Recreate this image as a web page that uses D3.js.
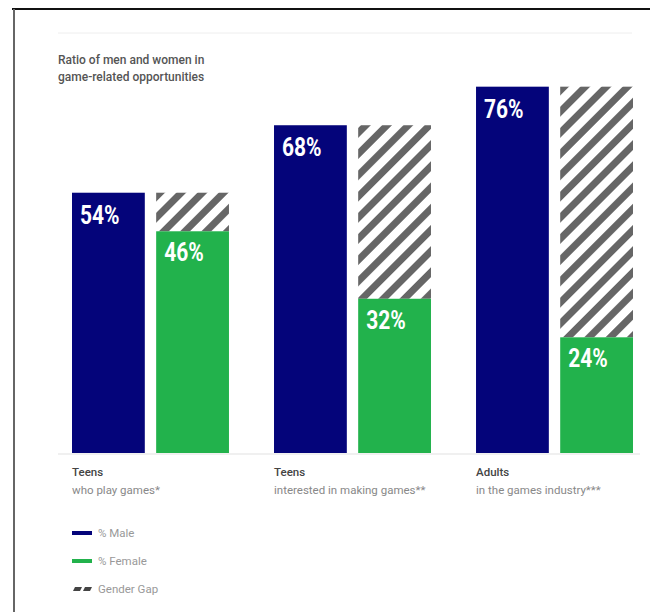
<!DOCTYPE html>
<html>
<head>
<meta charset="utf-8">
<script src="https://cdn.jsdelivr.net/npm/d3@7"></script>
<style>
  body { margin: 0; background: #fff; }
  svg { display: block; font-family: Roboto, "Noto Sans", sans-serif; }
</style>
</head>
<body>
<div id="chart"></div>
<script>
// data
const groups = ["Teens", "Teens", "Adults"];
const groupNotes = ["who play games*", "interested in making games**", "in the games industry***"];
const male = [54, 68, 76];
const female = [46, 32, 24];
const legendLabels = ["% Male", "% Female", "Gender Gap"];
const titleLines = ["Ratio of men and women in", "game-related opportunities"];

const width = 650, height = 612;
const navy = "#04047a", green = "#22b24c", hatchGray = "#666";

const svg = d3.select("#chart").append("svg")
    .attr("width", width)
    .attr("height", height);

// hatch pattern for the gap
const defs = svg.append("defs");
const pat = defs.append("pattern")
    .attr("id", "hatch")
    .attr("patternUnits", "userSpaceOnUse")
    .attr("width", 15)
    .attr("height", 15)
    .attr("patternTransform", "rotate(45)");
pat.append("rect").attr("width", 15).attr("height", 15).attr("fill", "#fff");
pat.append("rect").attr("x", 0).attr("width", 7).attr("height", 15).attr("fill", hatchGray);

// frame
svg.append("line").attr("x1", 12).attr("x2", width).attr("y1", 9).attr("y2", 9)
    .attr("stroke", "#111").attr("stroke-width", 2);
svg.append("line").attr("x1", 14).attr("x2", 14).attr("y1", 9).attr("y2", height)
    .attr("stroke", "#666").attr("stroke-width", 2);
svg.append("line").attr("x1", 58).attr("x2", 632).attr("y1", 33).attr("y2", 33)
    .attr("stroke", "#eee").attr("stroke-width", 1);

// title
svg.append("g").selectAll("text")
    .data(titleLines)
    .enter()
    .append("text")
    .attr("x", 58)
    .attr("y", (d, i) => 64 + i * 17)
    .attr("fill", "#555")
    .style("font-size", "12px")
    .style("font-weight", "500")
    .text(d => d);

const baseY = 453;
const idx = d3.range(groups.length);

const x0 = d3.scaleBand().domain(idx).range([72, 633]).paddingInner(0.223);
const x1 = d3.scaleBand().domain(["m", "f"]).range([0, x0.bandwidth()]).paddingInner(0.135);
const y = d3.scaleLinear().domain([0, 100]).range([baseY, baseY - 482]);

svg.append("line").attr("x1", 58).attr("x2", 640).attr("y1", baseY + 1).attr("y2", baseY + 1)
    .attr("stroke", "#f0f0f0").attr("stroke-width", 2);

const g = svg.selectAll(".grp")
    .data(idx)
    .enter()
    .append("g")
    .attr("class", "grp")
    .attr("transform", d => "translate(" + x0(d) + ",0)");

// male bars
g.append("rect")
    .attr("x", x1("m"))
    .attr("y", d => y(male[d]))
    .attr("width", x1.bandwidth())
    .attr("height", d => baseY - y(male[d]))
    .attr("fill", navy);

// gap (hatched) from female up to male
g.append("rect")
    .attr("x", x1("f"))
    .attr("y", d => y(male[d]))
    .attr("width", x1.bandwidth())
    .attr("height", d => y(female[d]) - y(male[d]))
    .attr("fill", "url(#hatch)");

// female bars
g.append("rect")
    .attr("x", x1("f"))
    .attr("y", d => y(female[d]))
    .attr("width", x1.bandwidth())
    .attr("height", d => baseY - y(female[d]))
    .attr("fill", green);

// value labels, squeezed to look condensed
g.append("text")
    .attr("transform", d => "translate(" + (x1("m") + 8) + "," + (y(male[d]) + 31) + ") scale(0.84,1)")
    .attr("fill", "#fff")
    .style("font-size", "25px")
    .style("font-weight", "bold")
    .text(d => male[d] + "%");

g.append("text")
    .attr("transform", d => "translate(" + (x1("f") + 8) + "," + (y(female[d]) + 30) + ") scale(0.84,1)")
    .attr("fill", "#fff")
    .style("font-size", "25px")
    .style("font-weight", "bold")
    .text(d => female[d] + "%");

// category labels
g.append("text")
    .attr("x", 0)
    .attr("y", 476)
    .attr("fill", "#444")
    .style("font-size", "11.5px")
    .style("font-weight", "500")
    .text(d => groups[d]);

g.append("text")
    .attr("x", 0)
    .attr("y", 494)
    .attr("fill", "#888")
    .style("font-size", "11.5px")
    .text(d => groupNotes[d]);

// legend
const leg = svg.selectAll(".leg")
    .data(legendLabels)
    .enter()
    .append("g")
    .attr("class", "leg")
    .attr("transform", (d, i) => "translate(72," + (533 + i * 28) + ")");

leg.filter((d, i) => i < 2).append("line")
    .attr("x1", 0).attr("x2", 20)
    .attr("stroke", (d, i) => i === 0 ? navy : green)
    .attr("stroke-width", 4);

const gapSw = leg.filter((d, i) => i === 2);
gapSw.append("path")
    .attr("d", "M1,2 L3,-2 L10,-2 L8,2 Z M11,2 L13,-2 L20,-2 L18,2 Z")
    .attr("fill", "#444");

leg.append("text")
    .attr("x", 26)
    .attr("y", 4)
    .attr("fill", "#999")
    .style("font-size", "11.5px")
    .text(d => d);
</script>
</body>
</html>
